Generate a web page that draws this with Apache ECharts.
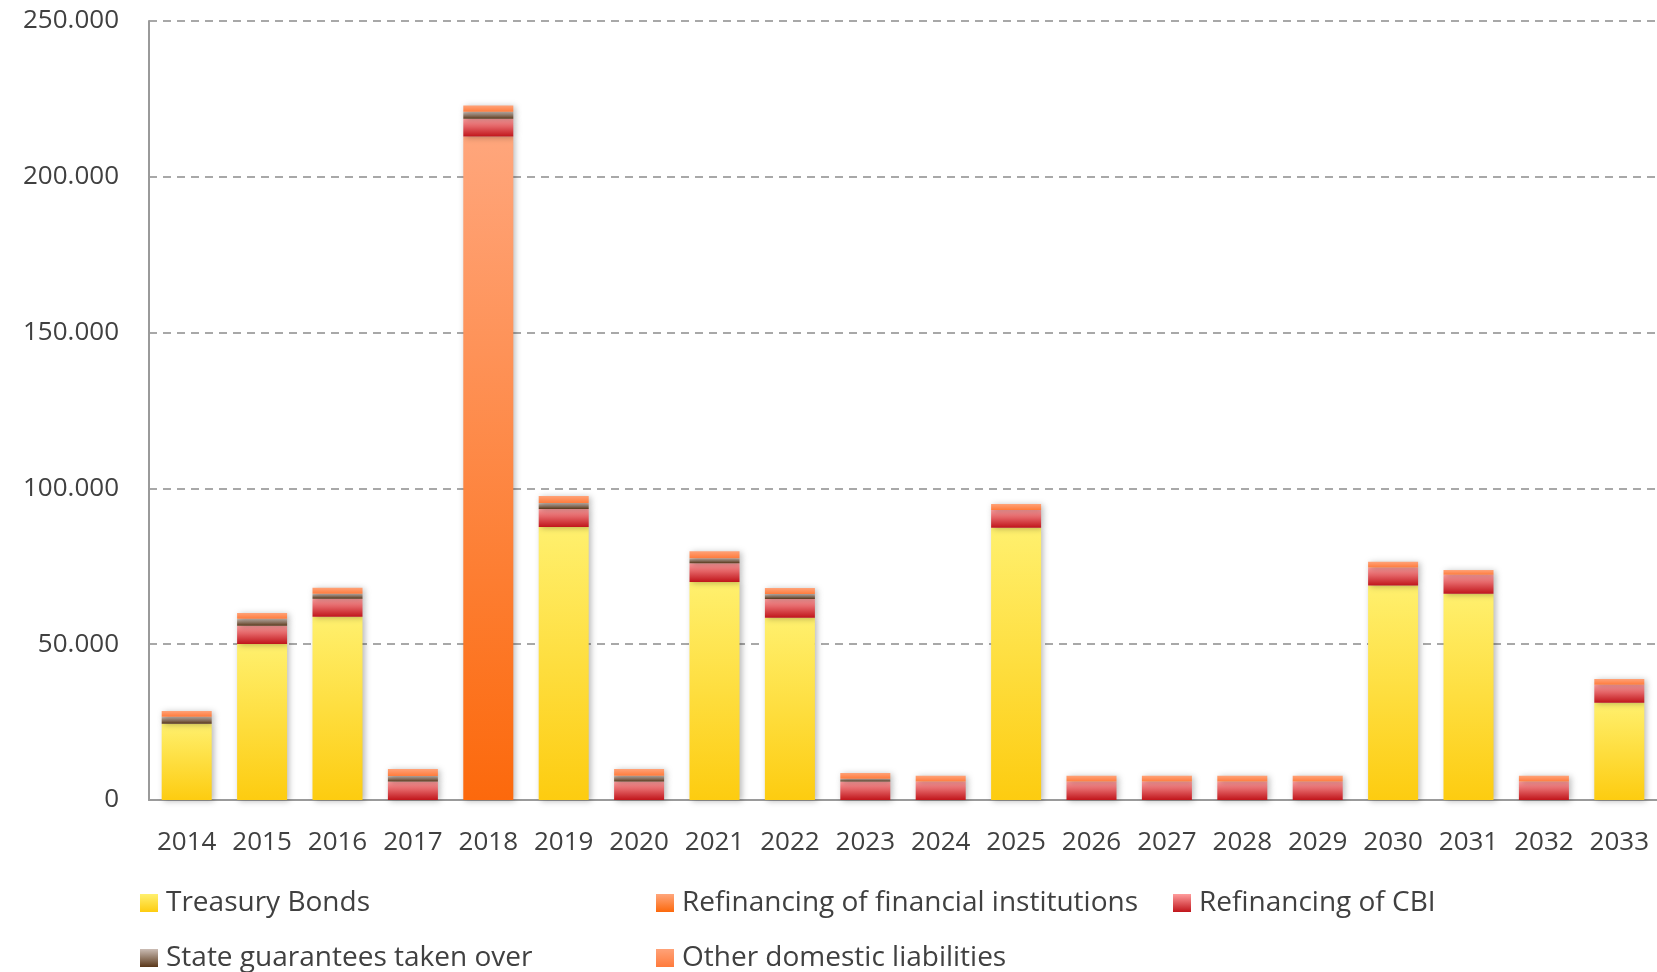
<!DOCTYPE html>
<html>
<head>
<meta charset="utf-8">
<script src="https://cdn.jsdelivr.net/npm/echarts@6/dist/echarts.min.js"></script>
<style>
  html, body { margin: 0; padding: 0; background: #fff; }
  #chart { width: 1657px; height: 972px; }
</style>
</head>
<body>
<div id="chart"></div>
<script>
// years on the x axis
var years = ['2014', '2015', '2016', '2017', '2018', '2019', '2020', '2021', '2022', '2023',
             '2024', '2025', '2026', '2027', '2028', '2029', '2030', '2031', '2032', '2033'];

// values (stack order bottom -> top)
var treasuryBonds = [24500, 50100, 58800, 0, 0, 87600, 0, 70000, 58500, 0,
                     0, 87400, 0, 0, 0, 0, 68800, 66200, 0, 31200];
var finInstitutions = [0, 0, 0, 0, 212900, 0, 0, 0, 0, 0,
                       0, 0, 0, 0, 0, 0, 0, 0, 0, 0];
var refinancingCBI = [0, 5800, 5800, 5900, 5700, 5800, 5900, 6000, 6000, 5900,
                      5900, 5700, 5900, 5900, 5900, 5900, 5800, 6100, 5900, 5800];
var stateGuarantees = [2250, 2250, 1600, 1800, 2250, 1900, 1900, 1600, 1600, 950,
                       0, 0, 0, 0, 0, 0, 0, 0, 0, 0];
var otherDomestic = [1850, 1900, 1900, 2250, 2000, 2250, 2150, 2250, 1900, 1850,
                     1850, 1900, 1850, 1850, 1850, 1850, 1850, 1500, 1850, 1850];

var yTicks = [0, 50000, 100000, 150000, 200000, 250000];

var FONT = '"Open Sans", sans-serif';
var TEXT = '#404040';

function grad(top, bottom) {
  return new echarts.graphic.LinearGradient(0, 0, 0, 1, [
    { offset: 0, color: top },
    { offset: 1, color: bottom }
  ]);
}

function blankZero(arr) {
  return arr.map(function (v) { return v === 0 ? '-' : v; });
}

function barSeries(name, data, top, bottom) {
  return {
    name: name,
    type: 'bar',
    stack: 'debt',
    barWidth: 50,
    data: blankZero(data),
    itemStyle: {
      color: grad(top, bottom),
      shadowBlur: 6,
      shadowOffsetX: 2,
      shadowOffsetY: 1,
      shadowColor: 'rgba(0,0,0,0.28)'
    }
  };
}

function legendAt(name, left, top) {
  return {
    data: [name],
    left: left,
    top: top,
    padding: 0,
    itemWidth: 18,
    itemHeight: 18,
    icon: 'rect',
    textStyle: { fontFamily: FONT, fontSize: 28, color: TEXT, padding: [0, 0, 0, 3] }
  };
}

var chart = echarts.init(document.getElementById('chart'));
chart.setOption({
  animation: false,
  grid: { left: 149, top: 21, width: 1512, height: 779, containLabel: false },
  legend: [
    legendAt('Treasury Bonds', 140, 889),
    legendAt('Refinancing of financial institutions', 656, 889),
    legendAt('Refinancing of CBI', 1173, 889),
    legendAt('State guarantees taken over', 140, 944),
    legendAt('Other domestic liabilities', 656, 944)
  ],
  xAxis: {
    type: 'category',
    data: years,
    axisTick: { show: false },
    axisLine: { lineStyle: { color: '#9a9a9a', width: 2 } },
    axisLabel: { interval: 0, margin: 30, fontFamily: FONT, fontSize: 26, color: TEXT }
  },
  yAxis: {
    type: 'value',
    min: yTicks[0],
    max: yTicks[yTicks.length - 1],
    interval: yTicks[1] - yTicks[0],
    axisLine: { show: true, lineStyle: { color: '#9a9a9a', width: 2 } },
    axisTick: { show: false },
    axisLabel: {
      margin: 30,
      fontFamily: FONT,
      fontSize: 26,
      color: TEXT,
      formatter: function (v) {
        return String(v).replace(/\B(?=(\d{3})+(?!\d))/g, '.');
      }
    },
    splitLine: { lineStyle: { color: '#8c8c8c', width: 1.5, type: [8, 6] } }
  },
  series: [
    barSeries('Treasury Bonds', treasuryBonds, '#fff06e', '#fdcc10'),
    barSeries('Refinancing of financial institutions', finInstitutions, '#ffa67c', '#fc690c'),
    barSeries('Refinancing of CBI', refinancingCBI, '#ff9d9d', '#c0151b'),
    barSeries('State guarantees taken over', stateGuarantees, '#cbbdb5', '#5a3719'),
    barSeries('Other domestic liabilities', otherDomestic, '#ffa278', '#ff7b3c')
  ]
});
</script>
</body>
</html>
